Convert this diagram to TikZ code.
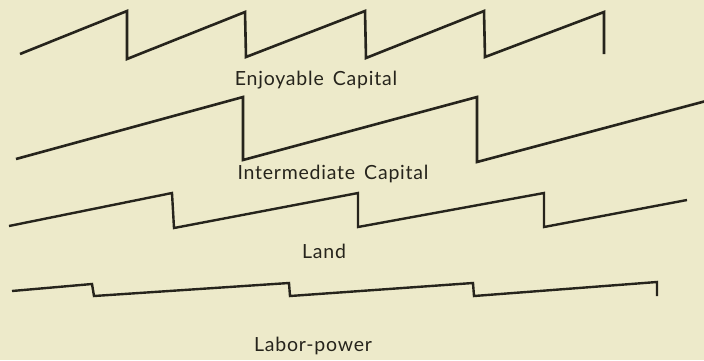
\documentclass[tikz,border=0pt]{standalone}
\usepackage{fontspec}
\setmainfont[LetterSpace=4]{Lato}
\usepackage{tikz}
\definecolor{paper}{RGB}{237,234,202}
\definecolor{ink}{RGB}{38,36,28}

\begin{document}
\begin{tikzpicture}[x=1pt, y=-1pt]
                    \fill[paper] (0,0) rectangle (704,360);
                    \useasboundingbox (0,0) rectangle (704,360);

                    \draw(316,80) node[ink, font=\fontsize{19.5}{24}\selectfont] (enjoy) {Enjoyable\hspace{9pt}Capital};
                    \draw(333,174) node[ink, font=\fontsize{19.5}{24}\selectfont] (inter) {Intermediate\hspace{9pt}Capital};
                    \draw(324,251) node[ink, font=\fontsize{19.5}{24}\selectfont] (land) {Land};
                    \draw(313,346) node[ink, font=\fontsize{19.5}{24}\selectfont] (labor) {Labor-power};

                    \draw[-, ink, line width=2.6pt, line join=miter] 
                        (20,54) -- (127,11) -- (127,59) -- (245,12) -- (246,57) --
                        (365,11) -- (366,58) -- (484,11) -- (485,57) -- (604,12) -- (604,54);

                    \draw[-, ink, line width=2.6pt, line join=miter] 
                        (16,159) -- (243,97) -- (243,160) -- (477,97) -- (477,162) -- (706,101);

                    \draw[-, ink, line width=2.4pt, line join=miter] 
                        (9,226) -- (172,193) -- (174,228) -- (358,193) -- (358,227) --
                        (544,193) -- (544,227) -- (687,200);

                    \draw[-, ink, line width=2.4pt, line join=miter] 
                        (12,291) -- (92,284) -- (94,296) -- (289,283) -- (290,296) --
                        (473,283) -- (474,296) -- (657,282) -- (657,296);
                              
                \end{tikzpicture}
\end{document}
